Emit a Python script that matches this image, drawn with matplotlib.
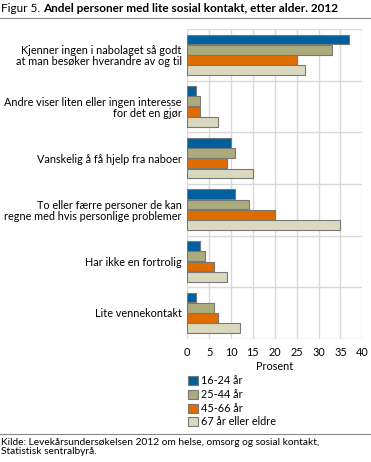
import numpy as np
import matplotlib
matplotlib.use("Agg")
import matplotlib.pyplot as plt
from matplotlib.patches import Patch

categories = [
    "Kjenner ingen i nabolaget så godt\nat man besøker hverandre av og til",
    "Andre viser liten eller ingen interesse\nfor det en gjør",
    "Vanskelig å få hjelp fra naboer",
    "To eller færre personer de kan\nregne med hvis personlige problemer",
    "Har ikke en fortrolig",
    "Lite vennekontakt",
]
series = ["16-24 år", "25-44 år", "45-66 år", "67 år eller eldre"]
v_16_24 = [37, 2, 10, 11, 3, 2]
v_25_44 = [33, 3, 11, 14, 4, 6]
v_45_66 = [25, 3, 9, 20, 6, 7]
v_67 = [27, 7, 15, 35, 9, 12]
values = [v_16_24, v_25_44, v_45_66, v_67]
colors = ["#00609f", "#abab7c", "#e06c00", "#dad9c0"]

plt.rcParams['font.family'] = ['Lato', 'DejaVu Sans']
W, H = 371, 462
fig = plt.figure(figsize=(W / 100, H / 100), dpi=100)

def px(x0, y0, x1, y1):
    return [x0 / W, 1 - y1 / H, (x1 - x0) / W, (y1 - y0) / H]

ax = fig.add_axes(px(187.3, 29.1, 362.3, 338.7))
y = np.arange(len(categories))
offsets = [-0.3, -0.1, 0.1, 0.3]
for vals, off, col, lab in zip(values, offsets, colors, series):
    ax.barh(y + off, vals, height=0.19, color=col, edgecolor="#777777",
            linewidth=0.8, label=lab, zorder=3)

ax.set_xlim(0, 40)
ax.set_ylim(5.5, -0.5)
ax.set_xticks(range(0, 41, 5))
ax.set_yticks(y)
ax.set_yticklabels(categories, fontsize=7.8, linespacing=1.05)
ax.set_yticks(np.arange(-0.5, 6, 1), minor=True)
ax.grid(True, axis="x", color="#d9d9d9", linewidth=1, zorder=0)
ax.grid(True, axis="y", which="minor", color="#d9d9d9", linewidth=1, zorder=0)
ax.grid(False, axis="y", which="major")
ax.tick_params(axis="both", which="both", length=0)
ax.tick_params(axis="x", labelsize=7.8, pad=6)
ax.tick_params(axis="y", pad=4)
for s in ax.spines.values():
    s.set_visible(False)
ax.set_xlabel("Prosent", fontsize=7.8, labelpad=2)

handles = [Patch(facecolor=c, edgecolor="#777777", linewidth=0.8) for c in colors]
fig.legend(handles, series, loc="upper left", bbox_to_anchor=(184 / W, 1 - 371 / H),
           frameon=False, fontsize=7.8, handlelength=0.9, handleheight=0.9,
           handletextpad=0.3, labelspacing=0.25, borderaxespad=0)

t1 = fig.text(1 / W, 1 - 9 / H, "Figur 5. ", fontsize=8.5, va="center", ha="left")
renderer = fig.canvas.get_renderer()
bb = t1.get_window_extent(renderer)
fig.text(bb.x1 / W, 1 - 9 / H, "Andel personer med lite sosial kontakt, etter alder. 2012",
         fontsize=8.5, fontweight="bold", va="center", ha="left")
fig.add_artist(plt.Line2D([0, 1], [1 - 17.5 / H] * 2, color="#888888", linewidth=0.8))
fig.add_artist(plt.Line2D([0, 1], [1 - 433.5 / H] * 2, color="#888888", linewidth=0.8))
fig.text(1 / W, 1 - 438 / H,
         "Kilde: Levekårsundersøkelsen 2012 om helse, omsorg og sosial kontakt,\nStatistisk sentralbyrå.",
         fontsize=7.3, va="top", ha="left", linespacing=1.05)

fig.savefig("out.png", dpi=100)
